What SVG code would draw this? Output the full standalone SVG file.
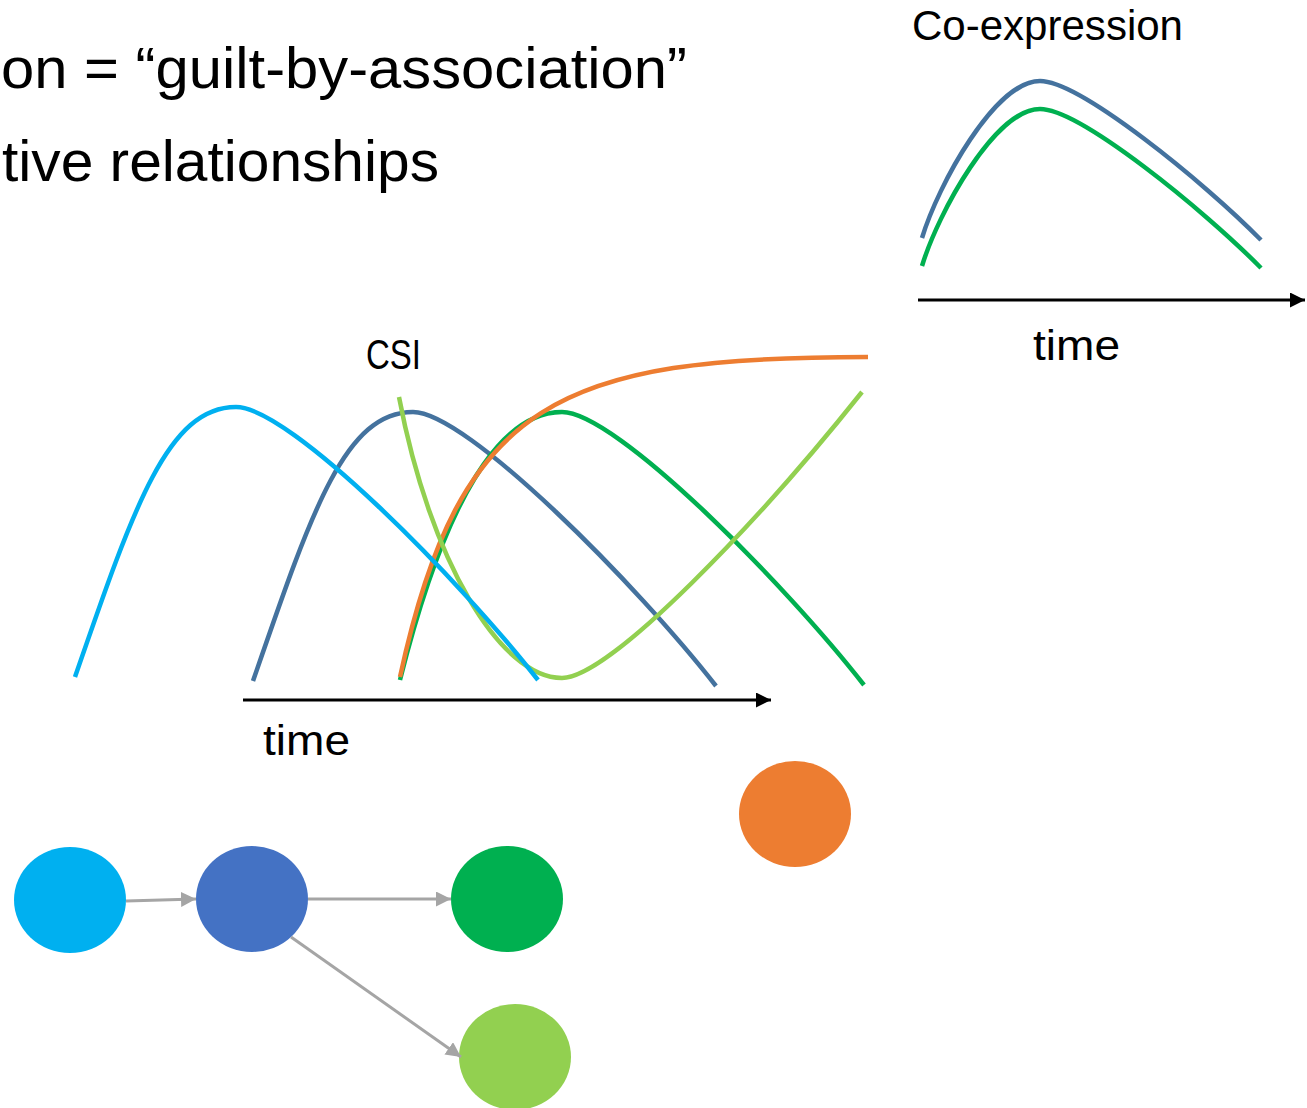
<svg xmlns="http://www.w3.org/2000/svg" width="1307" height="1108" viewBox="0 0 1307 1108">
  <style>
    .title { font-family: "Liberation Sans", Arial, sans-serif; font-size: 58px; fill: #000; }
    .label { font-family: "Liberation Sans", Arial, sans-serif; font-size: 42px; fill: #000; }
    .curve { fill: none; stroke-width: 4.5; stroke-linecap: butt; }
    .axis { fill: none; stroke: #000; stroke-width: 3; }
    .edge { fill: none; stroke: #A5A5A5; stroke-width: 3; }
    .c-lblue { stroke: #00B0F0; }
    .c-blue { stroke: #44729E; }
    .c-green { stroke: #00B050; }
    .c-lgreen { stroke: #92D050; }
    .c-orange { stroke: #ED7D31; }
  </style>
  <defs>
    <marker id="axisHead" viewBox="0 0 10 10" refX="10" refY="5" markerWidth="5" markerHeight="5" markerUnits="strokeWidth" orient="auto">
      <path d="M0,0 L10,5 L0,10 Z" fill="#000"/>
    </marker>
    <marker id="edgeHead" viewBox="0 0 10 10" refX="10" refY="5" markerWidth="5" markerHeight="5" markerUnits="strokeWidth" orient="auto">
      <path d="M0,0 L10,5 L0,10 Z" fill="#A5A5A5"/>
    </marker>
  </defs>

  <!-- heading lines -->
  <text class="title" x="1" y="88" textLength="686" lengthAdjust="spacingAndGlyphs">on = “guilt-by-association”</text>
  <text class="title" x="2" y="181" textLength="437" lengthAdjust="spacingAndGlyphs">tive relationships</text>

  <!-- co-expression panel -->
  <g id="coexpression">
    <text class="label" x="912" y="40" textLength="271" lengthAdjust="spacingAndGlyphs">Co-expression</text>
    <path class="curve c-blue" d="M922,238 C938,185 995,81 1040,81 C1080,81 1204,182 1261,240"/>
    <path class="curve c-green" d="M922,266 C938,213 995,109 1040,109 C1080,109 1204,210 1261,268"/>
    <line class="axis" x1="918" y1="300" x2="1305" y2="300" marker-end="url(#axisHead)"/>
    <text class="label" x="1033" y="360" textLength="87" lengthAdjust="spacingAndGlyphs">time</text>
  </g>

  <!-- CSI panel -->
  <g id="csi">
    <text class="label" x="366" y="369" textLength="55" lengthAdjust="spacingAndGlyphs">CSI</text>
    <path class="curve c-blue" d="M253,681 C312,510 345,412 413,412 C467,412 638,586 716,686"/>
    <path class="curve c-green" d="M400,680 C445,500 500,412 562,412 C616,412 786,585 864,685"/>
    <path class="curve c-orange" d="M400,677 C460,400 560,357 868,357"/>
    <path class="curve c-lgreen" d="M399,397 C430,560 500,678 562,678 C610,678 760,520 862,392"/>
    <path class="curve c-lblue" d="M75,677 C134,506 168,407 236,407 C290,407 460,580 538,680"/>
    <line class="axis" x1="243" y1="700" x2="771" y2="700" marker-end="url(#axisHead)"/>
    <text class="label" x="263" y="755" textLength="87" lengthAdjust="spacingAndGlyphs">time</text>
  </g>

  <!-- network nodes -->
  <g id="node-lightblue"><ellipse cx="70" cy="900" rx="56" ry="53" fill="#00B0F0"/></g>
  <g id="node-blue"><ellipse cx="252" cy="899" rx="56" ry="53" fill="#4472C4"/></g>
  <g id="node-green"><ellipse cx="507" cy="899" rx="56" ry="53" fill="#00B050"/></g>
  <g id="node-lightgreen"><ellipse cx="515" cy="1057" rx="56" ry="53" fill="#92D050"/></g>
  <g id="node-orange"><ellipse cx="795" cy="814" rx="56" ry="53" fill="#ED7D31"/></g>

  <!-- network edges -->
  <g id="edges">
    <line class="edge" x1="126" y1="901" x2="196" y2="899" marker-end="url(#edgeHead)"/>
    <line class="edge" x1="308" y1="899" x2="451" y2="899" marker-end="url(#edgeHead)"/>
    <line class="edge" x1="291" y1="937" x2="461" y2="1057" marker-end="url(#edgeHead)"/>
  </g>
</svg>
